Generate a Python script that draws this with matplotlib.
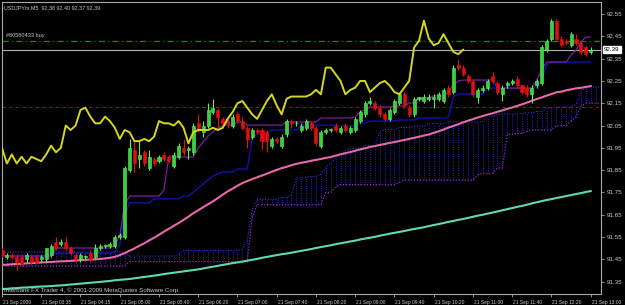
import matplotlib
matplotlib.use("Agg")
import matplotlib.pyplot as plt
import matplotlib.transforms as mtransforms
import numpy as np

# ---------------- data (USDJPYm, M5) ----------------
time_labels = ["21 Sep 2009", "21 Sep 03:35", "21 Sep 04:15", "21 Sep 05:00", "21 Sep 05:40",
               "21 Sep 06:20", "21 Sep 07:00", "21 Sep 07:40", "21 Sep 08:20", "21 Sep 09:00",
               "21 Sep 09:40", "21 Sep 10:20", "21 Sep 11:00", "21 Sep 11:40", "21 Sep 12:20",
               "21 Sep 13:00"]
price_ticks = [92.55, 92.45, 92.35, 92.25, 92.15, 92.05, 91.95, 91.85, 91.75, 91.65, 91.55, 91.45, 91.35]

opens = [91.49, 91.46, 91.47, 91.46, 91.46, 91.45, 91.46, 91.46, 91.45, 91.45,
         91.47, 91.53, 91.52, 91.53, 91.50, 91.47, 91.45, 91.46, 91.48, 91.46,
         91.50, 91.51, 91.51, 91.51, 91.55, 91.55, 91.85, 91.94, 91.90, 91.93,
         91.86, 91.90, 91.89, 91.92, 91.91, 91.87, 91.91, 91.95, 91.94, 91.93,
         92.06, 92.02, 92.05, 92.11, 92.12, 92.08, 92.07, 92.05, 92.10, 92.07,
         92.04, 92.00, 92.03, 92.03, 92.02, 91.96, 91.99, 91.96, 92.01, 92.07,
         92.06, 92.03, 92.04, 92.06, 92.04, 91.96, 92.02, 92.03, 92.05, 92.02,
         92.05, 92.02, 92.03, 92.07, 92.10, 92.15, 92.15, 92.13, 92.10, 92.08,
         92.11, 92.15, 92.19, 92.13, 92.10, 92.17, 92.16, 92.17, 92.17, 92.17,
         92.16, 92.22, 92.20, 92.32, 92.31, 92.27, 92.25, 92.18, 92.21, 92.22,
         92.27, 92.24, 92.19, 92.23, 92.24, 92.26, 92.23, 92.22, 92.19, 92.23,
         92.24, 92.39, 92.44, 92.52, 92.44, 92.43, 92.41, 92.44, 92.42, 92.40,
         92.38]
highs = [91.50, 91.48, 91.48, 91.47, 91.47, 91.48, 91.47, 91.47, 91.47, 91.50,
         91.52, 91.55, 91.54, 91.55, 91.51, 91.48, 91.48, 91.47, 91.49, 91.52,
         91.52, 91.52, 91.53, 91.56, 91.57, 91.87, 91.99, 91.99, 91.98, 91.94,
         91.94, 91.91, 91.92, 91.93, 91.92, 91.93, 91.97, 91.99, 91.96, 92.06,
         92.10, 92.07, 92.15, 92.17, 92.13, 92.09, 92.08, 92.10, 92.11, 92.09,
         92.05, 92.04, 92.04, 92.04, 92.03, 92.00, 92.00, 92.01, 92.08, 92.08,
         92.07, 92.06, 92.08, 92.07, 92.05, 92.03, 92.04, 92.04, 92.06, 92.05,
         92.06, 92.05, 92.09, 92.12, 92.16, 92.18, 92.16, 92.14, 92.11, 92.13,
         92.17, 92.20, 92.20, 92.14, 92.18, 92.18, 92.19, 92.19, 92.19, 92.20,
         92.22, 92.23, 92.32, 92.35, 92.32, 92.28, 92.26, 92.22, 92.23, 92.26,
         92.29, 92.25, 92.23, 92.25, 92.26, 92.27, 92.23, 92.23, 92.23, 92.26,
         92.41, 92.44, 92.53, 92.53, 92.45, 92.44, 92.47, 92.46, 92.43, 92.41,
         92.40]
lows = [91.46, 91.45, 91.45, 91.40, 91.42, 91.44, 91.43, 91.43, 91.44, 91.44,
        91.46, 91.49, 91.51, 91.49, 91.47, 91.44, 91.44, 91.45, 91.44, 91.45,
        91.49, 91.50, 91.50, 91.50, 91.54, 91.54, 91.84, 91.84, 91.86, 91.87,
        91.85, 91.87, 91.88, 91.89, 91.88, 91.86, 91.90, 91.92, 91.90, 91.92,
        92.02, 92.00, 92.04, 92.10, 92.04, 92.05, 92.04, 92.04, 92.06, 92.03,
        91.95, 91.99, 92.01, 91.94, 91.93, 91.95, 91.97, 91.95, 92.00, 92.04,
        92.05, 92.02, 92.03, 92.03, 91.96, 91.95, 92.01, 92.02, 92.02, 92.01,
        92.02, 92.01, 92.02, 92.06, 92.09, 92.14, 92.12, 92.09, 92.07, 92.07,
        92.10, 92.14, 92.13, 92.09, 92.09, 92.16, 92.15, 92.16, 92.13, 92.16,
        92.15, 92.18, 92.19, 92.30, 92.27, 92.24, 92.18, 92.15, 92.20, 92.21,
        92.24, 92.19, 92.16, 92.22, 92.23, 92.22, 92.19, 92.18, 92.15, 92.22,
        92.23, 92.38, 92.43, 92.43, 92.40, 92.41, 92.40, 92.41, 92.37, 92.36,
        92.37]
closes = [91.47, 91.47, 91.46, 91.44, 91.43, 91.47, 91.44, 91.44, 91.46, 91.50,
          91.51, 91.50, 91.53, 91.50, 91.48, 91.45, 91.47, 91.46, 91.45, 91.50,
          91.51, 91.51, 91.52, 91.55, 91.56, 91.86, 91.95, 91.88, 91.92, 91.88,
          91.91, 91.88, 91.91, 91.90, 91.89, 91.92, 91.96, 91.93, 91.95, 92.05,
          92.03, 92.05, 92.12, 92.13, 92.09, 92.06, 92.06, 92.09, 92.07, 92.04,
          91.99, 92.03, 92.02, 91.98, 91.98, 91.99, 91.98, 92.00, 92.07, 92.06,
          92.06, 92.05, 92.07, 92.04, 91.97, 92.02, 92.03, 92.03, 92.03, 92.04,
          92.03, 92.04, 92.08, 92.11, 92.15, 92.16, 92.13, 92.10, 92.08, 92.12,
          92.16, 92.19, 92.14, 92.10, 92.17, 92.18, 92.18, 92.18, 92.18, 92.19,
          92.21, 92.19, 92.31, 92.31, 92.28, 92.25, 92.19, 92.21, 92.22, 92.25,
          92.25, 92.20, 92.22, 92.24, 92.25, 92.23, 92.20, 92.19, 92.22, 92.25,
          92.40, 92.43, 92.52, 92.44, 92.41, 92.42, 92.46, 92.42, 92.38, 92.37,
          92.39]

tenkan = [91.465, 91.465, 91.465, 91.465, 91.465, 91.465, 91.465, 91.465, 91.465, 91.465,
          91.465, 91.501, 91.501, 91.501, 91.501, 91.501, 91.501, 91.501, 91.501, 91.501,
          91.501, 91.501, 91.501, 91.510, 91.559, 91.694, 91.734, 91.734, 91.734, 91.734,
          91.734, 91.734, 91.734, 91.761, 91.909, 91.909, 91.909, 91.909, 91.909, 91.909,
          91.949, 91.976, 92.003, 92.021, 92.039, 92.052, 92.052, 92.052, 92.066, 92.066,
          92.052, 92.052, 92.052, 92.052, 92.052, 92.052, 92.052, 92.052, 92.066, 92.066,
          92.066, 92.066, 92.066, 92.066, 92.066, 92.084, 92.084, 92.084, 92.084, 92.084,
          92.084, 92.084, 92.088, 92.111, 92.120, 92.133, 92.133, 92.133, 92.133, 92.133,
          92.138, 92.138, 92.138, 92.151, 92.151, 92.174, 92.174, 92.174, 92.183, 92.183,
          92.183, 92.200, 92.232, 92.250, 92.254, 92.254, 92.254, 92.254, 92.254, 92.254,
          92.254, 92.218, 92.218, 92.218, 92.218, 92.218, 92.218, 92.218, 92.218, 92.254,
          92.299, 92.335, 92.335, 92.335, 92.335, 92.335, 92.366, 92.389, 92.425, 92.447,
          92.447]
kijun = [91.465, 91.465, 91.465, 91.465, 91.465, 91.465, 91.465, 91.465, 91.465, 91.465,
         91.478, 91.478, 91.478, 91.478, 91.478, 91.478, 91.478, 91.478, 91.478, 91.478,
         91.478, 91.478, 91.478, 91.483, 91.514, 91.649, 91.703, 91.703, 91.703, 91.703,
         91.703, 91.721, 91.721, 91.721, 91.721, 91.721, 91.721, 91.734, 91.734, 91.752,
         91.770, 91.788, 91.806, 91.824, 91.833, 91.842, 91.842, 91.842, 91.855, 91.855,
         91.855, 91.994, 92.012, 92.012, 92.012, 92.030, 92.030, 92.030, 92.030, 92.030,
         92.030, 92.052, 92.052, 92.052, 92.052, 92.052, 92.052, 92.052, 92.052, 92.048,
         92.048, 92.048, 92.048, 92.061, 92.061, 92.070, 92.070, 92.070, 92.070, 92.070,
         92.070, 92.075, 92.075, 92.075, 92.075, 92.084, 92.084, 92.084, 92.084, 92.084,
         92.084, 92.088, 92.178, 92.191, 92.191, 92.191, 92.191, 92.191, 92.191, 92.218,
         92.218, 92.218, 92.218, 92.218, 92.218, 92.218, 92.218, 92.218, 92.218, 92.227,
         92.254, 92.322, 92.335, 92.335, 92.335, 92.335, 92.335, 92.335, 92.335, 92.335,
         92.335]
span_a = [91.483, 91.483, 91.483, 91.483, 91.483, 91.483, 91.483, 91.483, 91.483, 91.483,
          91.483, 91.483, 91.483, 91.483, 91.483, 91.483, 91.483, 91.483, 91.483, 91.483,
          91.483, 91.483, 91.483, 91.483, 91.483, 91.483, 91.465, 91.465, 91.465, 91.465,
          91.465, 91.465, 91.465, 91.465, 91.465, 91.465, 91.472, 91.490, 91.490, 91.490,
          91.490, 91.490, 91.490, 91.490, 91.490, 91.490, 91.490, 91.490, 91.490, 91.497,
          91.537, 91.672, 91.719, 91.719, 91.719, 91.719, 91.719, 91.728, 91.728, 91.741,
          91.815, 91.815, 91.815, 91.822, 91.822, 91.831, 91.860, 91.882, 91.905, 91.923,
          91.936, 91.947, 91.947, 91.947, 91.961, 91.961, 91.954, 92.023, 92.032, 92.032,
          92.032, 92.041, 92.041, 92.041, 92.048, 92.048, 92.048, 92.059, 92.059, 92.059,
          92.059, 92.068, 92.068, 92.068, 92.068, 92.066, 92.066, 92.066, 92.068, 92.086,
          92.091, 92.102, 92.102, 92.102, 92.102, 92.102, 92.104, 92.107, 92.107, 92.113,
          92.113, 92.129, 92.129, 92.129, 92.134, 92.134, 92.134, 92.144, 92.205, 92.221,
          92.223, 92.223, 92.223]
span_b = [91.420, 91.420, 91.420, 91.420, 91.420, 91.420, 91.420, 91.420, 91.420, 91.420,
          91.420, 91.420, 91.420, 91.420, 91.420, 91.420, 91.420, 91.420, 91.420, 91.420,
          91.420, 91.420, 91.420, 91.420, 91.420, 91.420, 91.440, 91.440, 91.440, 91.440,
          91.440, 91.440, 91.440, 91.440, 91.440, 91.440, 91.440, 91.440, 91.440, 91.440,
          91.440, 91.440, 91.440, 91.440, 91.440, 91.440, 91.440, 91.440, 91.440, 91.440,
          91.440, 91.635, 91.695, 91.695, 91.695, 91.695, 91.695, 91.695, 91.695, 91.695,
          91.695, 91.695, 91.695, 91.695, 91.695, 91.695, 91.750, 91.750, 91.775, 91.785,
          91.785, 91.785, 91.785, 91.785, 91.785, 91.785, 91.785, 91.785, 91.785, 91.785,
          91.785, 91.795, 91.805, 91.805, 91.805, 91.805, 91.805, 91.805, 91.805, 91.805,
          91.805, 91.805, 91.805, 91.805, 91.805, 91.805, 91.805, 91.830, 91.835, 91.835,
          91.835, 91.860, 91.860, 92.010, 92.010, 92.015, 92.015, 92.025, 92.030, 92.030,
          92.030, 92.030, 92.030, 92.050, 92.050, 92.050, 92.070, 92.090, 92.135, 92.150,
          92.150, 92.150, 92.150]
ma_pink = [91.425, 91.426, 91.428, 91.429, 91.430, 91.432, 91.433, 91.435, 91.436, 91.437,
           91.438, 91.440, 91.441, 91.442, 91.443, 91.445, 91.446, 91.448, 91.449, 91.450,
           91.452, 91.454, 91.457, 91.461, 91.469, 91.478, 91.489, 91.499, 91.511, 91.522,
           91.535, 91.547, 91.560, 91.574, 91.587, 91.600, 91.613, 91.627, 91.641, 91.657,
           91.670, 91.684, 91.697, 91.710, 91.725, 91.740, 91.755, 91.767, 91.780, 91.792,
           91.801, 91.810, 91.818, 91.826, 91.834, 91.843, 91.851, 91.859, 91.865, 91.872,
           91.878, 91.883, 91.887, 91.892, 91.896, 91.900, 91.905, 91.909, 91.915, 91.921,
           91.926, 91.931, 91.937, 91.943, 91.948, 91.954, 91.958, 91.963, 91.967, 91.972,
           91.976, 91.981, 91.985, 91.990, 91.995, 92.000, 92.005, 92.010, 92.017, 92.024,
           92.032, 92.041, 92.048, 92.056, 92.064, 92.072, 92.079, 92.086, 92.093, 92.099,
           92.105, 92.112, 92.118, 92.125, 92.131, 92.138, 92.145, 92.153, 92.161, 92.169,
           92.176, 92.184, 92.191, 92.199, 92.202, 92.208, 92.212, 92.217, 92.219, 92.223,
           92.227]
ma_teal = [91.317, 91.318, 91.320, 91.321, 91.323, 91.324, 91.325, 91.327, 91.328, 91.329,
           91.330, 91.332, 91.333, 91.335, 91.337, 91.339, 91.341, 91.343, 91.345, 91.347,
           91.349, 91.351, 91.353, 91.356, 91.358, 91.360, 91.362, 91.365, 91.368, 91.371,
           91.374, 91.377, 91.380, 91.384, 91.387, 91.390, 91.393, 91.396, 91.399, 91.402,
           91.405, 91.409, 91.413, 91.417, 91.421, 91.425, 91.429, 91.433, 91.436, 91.440,
           91.444, 91.448, 91.452, 91.457, 91.461, 91.465, 91.469, 91.473, 91.476, 91.480,
           91.484, 91.488, 91.492, 91.496, 91.501, 91.505, 91.509, 91.513, 91.518, 91.522,
           91.526, 91.530, 91.534, 91.539, 91.543, 91.547, 91.551, 91.556, 91.560, 91.565,
           91.569, 91.573, 91.577, 91.582, 91.586, 91.590, 91.594, 91.599, 91.604, 91.608,
           91.613, 91.618, 91.622, 91.627, 91.631, 91.636, 91.641, 91.646, 91.650, 91.655,
           91.660, 91.665, 91.670, 91.675, 91.680, 91.685, 91.690, 91.695, 91.701, 91.706,
           91.711, 91.716, 91.720, 91.725, 91.729, 91.734, 91.738, 91.743, 91.747, 91.752,
           91.756]
chikou_shift = 26
stop_level = 92.133
order_level = 92.43
bid_level = 92.39
order_label = "#80580433 buy"
header = "USDJPYm,M5  92.38 92.40 92.37 92.39"
copyright_text = "Interbank FX Trader 4, \u00a9 2001-2009 MetaQuotes Software Corp."

# ---------------- figure ----------------
W, H = 625, 305
fig = plt.figure(figsize=(W / 100, H / 100), dpi=100, facecolor="black")
ax = fig.add_axes([2 / W, 11 / H, 599 / W, 292 / H])
ax.set_facecolor("black")
ax.set_xlim(0.04, 122.1)
ax.set_ylim(91.2946, 92.604)

FONT = ["Liberation Sans", "DejaVu Sans"]
txt_col = "#c8c8c8"

o = np.array(opens); h = np.array(highs); l = np.array(lows); c = np.array(closes)
x = np.arange(len(c))
up = c >= o

# order / stop / bid lines
ax.axhline(stop_level, color="#9a1010", ls=(0, (3, 3)), lw=0.8, zorder=1)
ax.axhline(order_level, color="#0c8a0c", ls=(0, (5, 2.5, 1, 2.5)), lw=0.9, zorder=1)
ax.axhline(bid_level, color="#b4b4b4", lw=0.8, zorder=1)

# Ichimoku cloud (dotted histogram between the spans)
sa = np.array(span_a); sb = np.array(span_b)
xc = np.arange(len(sa))
ax.vlines(xc, sb, sa, colors="#2626d2", linestyles=(0, (1, 1.4)), lw=0.7, zorder=2)
ax.plot(xc, sa, color="#3434e6", ls=(0, (1, 1.4)), lw=0.8, zorder=2)
ax.plot(xc, sb, color="#9a28c8", ls=(0, (1, 1.4)), lw=0.9, zorder=2)

# moving averages
ax.plot(x, ma_teal, color="#5fd8b4", lw=1.5, zorder=3)
ax.plot(x, ma_pink, color="#e868aa", lw=1.5, zorder=3)

# Tenkan / Kijun
ax.plot(x, kijun, color="#1212c4", lw=0.9, zorder=4)
ax.plot(x, tenkan, color="#7a1e9e", lw=0.9, zorder=4)

# candles
bull_face, bull_edge = "#3ccf3c", "#5cf05c"
bear_face, bear_edge = "#e01010", "#e01010"
ax.vlines(x[up], l[up], h[up], colors=bull_edge, lw=0.8, zorder=5)
ax.vlines(x[~up], l[~up], h[~up], colors=bear_edge, lw=0.8, zorder=5)
bottom = np.minimum(o, c)
height = np.maximum(np.abs(c - o), 0.003)
ax.bar(x[up], height[up], bottom=bottom[up], width=0.62, color=bull_face,
       edgecolor=bull_edge, lw=0.4, zorder=6)
ax.bar(x[~up], height[~up], bottom=bottom[~up], width=0.62, color=bear_face,
       edgecolor=bear_edge, lw=0.4, zorder=6)

# Chikou span (close shifted back)
chikou = c[chikou_shift:]
ax.plot(x[:len(chikou)], chikou, color="#d6d61c", lw=1.4, zorder=7)

# axes styling
for s in ax.spines.values():
    s.set_color("#a8a8a8")
    s.set_linewidth(0.8)
ax.yaxis.tick_right()
ax.set_yticks(price_ticks)
ax.set_yticklabels([f"{v:.2f}" for v in price_ticks], fontsize=4.5, color=txt_col, family=FONT)
ax.tick_params(axis="y", length=2.5, width=0.6, color="#a8a8a8", pad=1.5)

xt = np.arange(0, len(c), 8)
ax.set_xticks(xt)
ax.set_xticklabels(time_labels, fontsize=3.5, color=txt_col, family=FONT, ha="left")
ax.tick_params(axis="x", length=2.5, width=0.6, color="#a8a8a8", pad=1.8)
shift = mtransforms.ScaledTranslation(1 / 100, 0, fig.dpi_scale_trans)
for lab in ax.get_xticklabels():
    lab.set_transform(lab.get_transform() + shift)

# texts
ax.text(1.0 + 3 / 599, bid_level, f"{bid_level:.2f}", transform=ax.get_yaxis_transform(),
        ha="left", va="center", fontsize=4.5, color="black", family=FONT, clip_on=False,
        bbox=dict(boxstyle="square,pad=0.2", fc="white", ec="white"), zorder=10)
fig.text(4 / W, 1 - 8 / H, header, fontsize=3.9, color=txt_col, family=FONT, va="center")
ax.text(0.8, order_level + 0.012, order_label, fontsize=4.0, color=txt_col, family=FONT,
        va="bottom", ha="left", zorder=8)
fig.text(4 / W, 1 - 290 / H, copyright_text, fontsize=4.4, color=txt_col, family=FONT,
         va="center")

fig.savefig("out.png", dpi=100, facecolor="black")
